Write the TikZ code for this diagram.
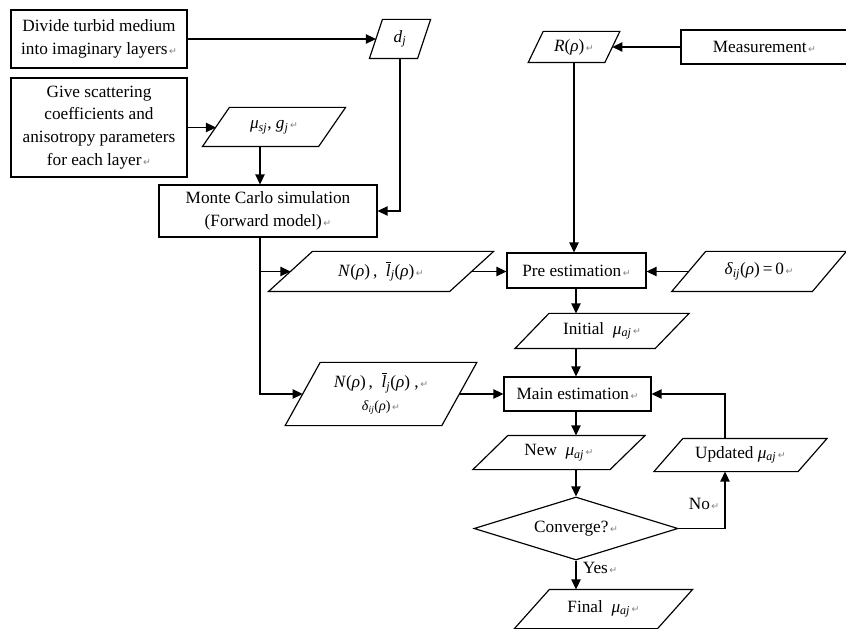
\documentclass[tikz,border=0pt]{standalone}
\usepackage{fontspec}
\setmainfont{Liberation Serif}
\newfontfamily\retfont{DejaVu Sans}
\usetikzlibrary{arrows.meta,shapes.geometric,calc}

\newcommand\rt{{\retfont\fontsize{8}{8}\selectfont\color{black!50}\,↵}}
\newcommand\vi[1]{\textit{#1}}
\newcommand\sbs[1]{\textsubscript{\textit{#1}}}
\newcommand\lbar{\textit{l}\llap{\rule[11.8pt]{4.6pt}{0.6pt}\kern-0.6pt}}
\newcommand\paral[2]{\draw ($(#1.north west)+(#2/2,0)$) -- ($(#1.north east)+(#2/2,0)$) -- ($(#1.south east)-(#2/2,0)$) -- ($(#1.south west)-(#2/2,0)$) -- cycle;}

\tikzset{
  box/.style={draw, rectangle, inner sep=0pt, align=center},
  para/.style={rectangle, inner sep=0pt, align=center},
  wd/.style={minimum width=#1*0.03cm},
  ht/.style={minimum height=#1*0.03cm}
}

\begin{document}
\begin{tikzpicture}[x=0.03cm,y=-0.03cm,
  font=\fontsize{14.7}{19.5}\selectfont,
  line width=1pt,
  >={Triangle[length=8.5pt,width=8pt]}]
\clip (0,0) rectangle (846,629);

% rectangles
\node[box,wd=176,ht=58] (b1) at (99,39) {Divide turbid medium\\into imaginary layers\rt};
\node[box,wd=176,ht=99] (b2) at (99,127.5) {Give scattering\\coefficients and\\anisotropy parameters\\for each layer\rt};
\node[box,wd=218,ht=52] (mc) at (268,211) {Monte Carlo simulation\\(Forward model)\rt};
\node[box,wd=167,ht=34] (meas) at (764.5,47) {Measurement\rt};
\node[box,wd=139,ht=35] (pre) at (576.5,270.5) {Pre estimation\rt};
\node[box,wd=147,ht=34] (main) at (577.5,394) {Main estimation\rt};

% parallelograms
\node[para,wd=47,ht=38] (dj) at (400,39) {\vi{d}\sbs{j}};
\paral{dj}{13}
\node[para,wd=115,ht=38] (mu) at (274,127) {\vi{μ}\sbs{sj}, \vi{g}\sbs{j}\rt};
\paral{mu}{27}
\node[para,wd=180,ht=39] (n1) at (381,271.5) {\vi{N}(\vi{ρ})\,, \ \lbar\sbs{j}(\vi{ρ})\rt};
\paral{n1}{44}
\node[para,wd=139.5,ht=39] (delta) at (759,271.5) {\vi{δ}\sbs{ij}(\vi{ρ})\,=\,0\rt};
\paral{delta}{34}
\node[para,wd=75.5,ht=30] (R) at (574,47) {\vi{R}(\vi{ρ})\rt};
\paral{R}{15}
\node[para,wd=139,ht=34] (init) at (602,331) {Initial \ \vi{μ}\sbs{aj}\rt};
\paral{init}{34}
\node[para,wd=155.5,ht=62] (n2) at (381,394) {\vi{N}(\vi{ρ})\,, \ \lbar\sbs{j}(\vi{ρ}) ,\rt\\{\fontsize{12}{14}\selectfont\vi{δ}\sbs{ij}(\vi{ρ})\rt}};
\paral{n2}{35}
\node[para,wd=136,ht=33] (new) at (559,452.5) {New \ \vi{μ}\sbs{aj}\rt};
\paral{new}{35}
\node[para,wd=143,ht=32] (upd) at (740.5,455) {Updated \vi{μ}\sbs{aj}\rt};
\paral{upd}{29}
\node[para,wd=142,ht=38] (final) at (603.5,609) {Final \ \vi{μ}\sbs{aj}\rt};
\paral{final}{35}

% decision
\node[draw, diamond, shape aspect=3.24, wd=204, ht=63, inner sep=0pt] (conv) at (576,528.5) {Converge?\rt};

% helper columns
\coordinate (trunk) at (260,0);
\coordinate (col) at (576,0);
\coordinate (loop) at (725,0);

% connectors
\draw[->] (b1) -- (dj);
\draw[->] (dj.south) |- (mc.east);
\draw[->] (b2.east) -- (b2.east -| mu.west);
\draw[->] (trunk |- mu.south) -- (trunk |- mc.north);
\draw[->] (trunk |- mc.south) |- (n2.west);
\draw[->] (trunk |- n1.west) -- (n1.west);
\draw[->] (n1.east) -- (n1.east -| pre.west);
\draw[->] (delta.west) -- (delta.west -| pre.east);
\draw[->] (meas.west) -- (meas.west -| R.east);
\draw[->] (R.south) -- (R.south |- pre.north);
\draw[->] (col |- pre.south) -- (col |- init.north);
\draw[->] (col |- init.south) -- (col |- main.north);
\draw[->] (n2.east) -- (n2.east -| main.west);
\draw[->] (col |- main.south) -- (col |- new.north);
\draw[->] (col |- new.south) -- (conv.north);
\draw[->] (conv.south) -- (conv.south |- final.north) node[pos=0.25, right, xshift=2pt] {Yes\rt};
\draw[->] (conv.east) -| (loop |- upd.south) node[pos=0.72, left, xshift=-1pt] {No\rt};
\draw[->] (loop |- upd.north) |- (main.east);
\end{tikzpicture}
\end{document}
